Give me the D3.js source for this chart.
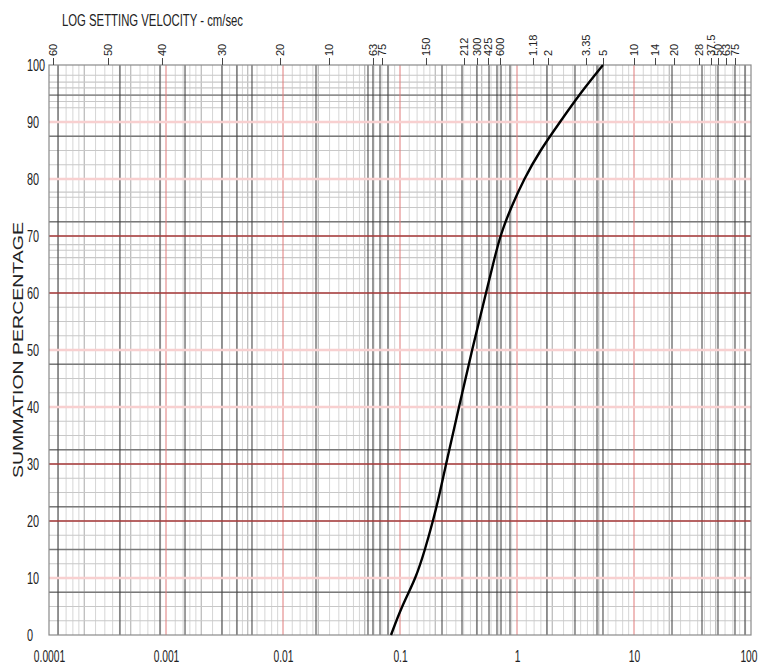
<!DOCTYPE html>
<html><head><meta charset="utf-8">
<script src="https://cdn.jsdelivr.net/npm/d3@7/dist/d3.min.js"></script>
<style>body{margin:0;background:#fff}svg{display:block}</style>
</head><body>
<svg id="c" width="761" height="667"></svg>
<script>
// ---- data ----
const sizes = [0.0838, 0.1033, 0.1370, 0.1636, 0.1915, 0.2197, 0.2473, 0.3193, 0.4124, 0.5433, 0.6235, 0.7157, 0.8886, 1.1476, 1.573, 2.331, 3.456, 5.433];
const percents = [0, 5, 10, 15, 20, 25, 30, 40, 50, 60, 65, 70, 75, 80, 85, 90, 95, 100];
const bottomTicks = [0.0001, 0.001, 0.01, 0.1, 1, 10, 100];
const bottomLabels = ["0.0001", "0.001", "0.01", "0.1", "1", "10", "100"];
const leftTicks = [0, 10, 20, 30, 40, 50, 60, 70, 80, 90, 100];
const topLabels = ["60","50","40","30","20","10","63","75","150","212","300","425","600","1.18","2","3.35","5","10","14","20","28","37.5","50","63","75"];
const topValues = [1.082e-4, 3.194e-4, 9.24e-4, 3.011e-3, 9.43e-3, 0.02472, 0.05876, 0.07018, 0.1668, 0.3524, 0.455, 0.565, 0.7157, 1.37, 1.841, 3.888, 5.433, 10, 15.12, 21.98, 35.94, 45.5, 52.22, 61.13, 72.98];
const minorMultipliers = [1.2, 1.4, 1.6, 1.8, 2, 2.5, 3, 3.5, 4, 4.5, 5, 6, 7, 8, 9];
const darkVerticals = [1.194e-4, 4.044e-4, 8.886e-4, 1.454e-3, 3.011e-3, 4.044e-3, 5.433e-3, 0.01915, 0.05326, 0.05876, 0.06748, 0.0789, 0.2286, 0.3388, 0.455, 0.5764, 0.6745, 0.7299, 0.8714, 1.804, 3.131, 4.829, 5.433, 21.13, 38.13, 52.22, 72.98, 88.86];
const decadeVerticals = [0.001, 0.01, 0.1, 1, 10];
const grayHorizontals = [2.5,5,7.5,10,12.5,15,17.5,20,22.5,25,27.5,30,32.5,35,37.5,40,42.5,45,47.5,50,52.5,55,57.5,60,62.5,65,66.2,67.5,68.5,70,72.5,75,76.8,77.7,80,82.5,85,87.5,90,92.5,93.6,94.7,96,97,98.2];
const darkHorizontals = [7.5, 15, 22.5, 32.5, 47.5, 72.5, 87.5, 94.7];
const redHorizontals = [20, 30, 60, 70];
const pinkHorizontals = [10, 40, 50, 80, 90];

// ---- layout ----
const L = 49, R = 751, T = 65, B = 635;
const svg = d3.select("#c");
const x = d3.scaleLog().domain([1e-4, 100]).range([L, R]);
const y = d3.scaleLinear().domain([0, 100]).range([B, T]);
const font = "'Liberation Sans', Arial, sans-serif";

svg.append("rect").attr("width", 761).attr("height", 667).attr("fill", "#fff");

const g = svg.append("g");
const minors = [];
[1e-4, 1e-3, 1e-2, 1e-1, 1, 10].forEach(d => minorMultipliers.forEach(m => minors.push(d * m)));

g.selectAll(".vminor").data(minors).join("line")
  .attr("x1", d => x(d)).attr("x2", d => x(d)).attr("y1", T).attr("y2", B)
  .attr("stroke", d => { const m = d / Math.pow(10, Math.floor(Math.log10(d) + 1e-9)); return (Math.abs(m-2)<1e-6||Math.abs(m-5)<1e-6) ? "#aaaaaa" : "#d6d6d6"; })
  .attr("stroke-width", 1);

g.selectAll(".hgray").data(grayHorizontals).join("line")
  .attr("x1", L).attr("x2", R).attr("y1", d => y(d)).attr("y2", d => y(d))
  .attr("stroke", "#c8c8c8").attr("stroke-width", 1.2);

g.selectAll(".hdark").data(darkHorizontals).join("line")
  .attr("x1", L).attr("x2", R).attr("y1", d => y(d)).attr("y2", d => y(d))
  .attr("stroke", "#7a7a7a").attr("stroke-width", 1.3);

g.selectAll(".vdark").data(darkVerticals).join("line")
  .attr("x1", d => x(d)).attr("x2", d => x(d)).attr("y1", T).attr("y2", B)
  .attr("stroke", "#3a3a3a").attr("stroke-width", 1);

g.selectAll(".vred").data(decadeVerticals).join("line")
  .attr("x1", d => x(d)).attr("x2", d => x(d)).attr("y1", T).attr("y2", B)
  .attr("stroke", "#e07a7a").attr("stroke-width", 1);

g.selectAll(".hpink").data(pinkHorizontals).join("line")
  .attr("x1", L).attr("x2", R).attr("y1", d => y(d)).attr("y2", d => y(d))
  .attr("stroke", "#f8d0d0").attr("stroke-width", 2.5);

g.selectAll(".hred").data(redHorizontals).join("line")
  .attr("x1", L).attr("x2", R).attr("y1", d => y(d)).attr("y2", d => y(d))
  .attr("stroke", "#a83a3a").attr("stroke-width", 1.6);

svg.append("rect").attr("x", L).attr("y", T).attr("width", R - L).attr("height", B - T)
  .attr("fill", "none").attr("stroke", "#8a8a8a").attr("stroke-width", 1.2);

// curve
const pts = sizes.map((s, i) => [s, percents[i]]);
svg.append("path").datum(pts)
  .attr("d", d3.line().x(d => x(d[0])).y(d => y(d[1])).curve(d3.curveBasis))
  .attr("fill", "none").attr("stroke", "#000").attr("stroke-width", 2.4);

// top axis
const topAxis = d3.axisTop(x).tickValues(topValues).tickSize(7).tickFormat((d, i) => topLabels[i]);
const ta = svg.append("g").attr("transform", `translate(0,${T})`).call(topAxis);
ta.select(".domain").remove();
ta.selectAll(".tick line").attr("stroke", "#444");
ta.selectAll(".tick text")
  .attr("font-family", font).attr("font-size", 11).attr("fill", "#222")
  .attr("transform", "rotate(-90)").attr("text-anchor", "start")
  .attr("x", 9).attr("y", 0).attr("dy", "0.35em");

// bottom axis (condensed glyphs via horizontal scale)
const sx = 0.64;
const bottomAxis = d3.axisBottom(x).tickValues(bottomTicks).tickSize(0).tickFormat((d, i) => bottomLabels[i]);
const ba = svg.append("g").attr("transform", `translate(0,${B})`).call(bottomAxis);
ba.select(".domain").remove();
ba.selectAll(".tick text").attr("font-family", font).attr("font-size", 16).attr("fill", "#222")
  .attr("y", 16).attr("dy", "0.71em").attr("transform", `scale(${sx},1)`);
ba.selectAll(".tick text").filter(d => d === 100).attr("text-anchor", "end").attr("x", 6 / sx);

// left axis
const sy = 0.68;
const leftAxis = d3.axisLeft(y).tickValues(leftTicks).tickSize(0).tickFormat(d3.format("d"));
const la = svg.append("g").call(leftAxis);
la.select(".domain").remove();
la.selectAll(".tick text").attr("font-family", font).attr("font-size", 16).attr("fill", "#222")
  .attr("text-anchor", "start").attr("x", 27 / sy).attr("dy", "0.36em")
  .attr("transform", `scale(${sy},1)`);

// titles
svg.append("text").attr("x", 62).attr("y", 26)
  .attr("font-family", font).attr("font-size", 16).attr("fill", "#222")
  .attr("textLength", 181).attr("lengthAdjust", "spacingAndGlyphs")
  .text("LOG SETTING VELOCITY - cm/sec");

svg.append("text").attr("transform", `translate(23,${(T + B) / 2}) rotate(-90)`)
  .attr("text-anchor", "middle").attr("font-family", font).attr("font-size", 15).attr("fill", "#222")
  .attr("textLength", 256).attr("lengthAdjust", "spacingAndGlyphs")
  .text("SUMMATION PERCENTAGE");
</script>
</body></html>
